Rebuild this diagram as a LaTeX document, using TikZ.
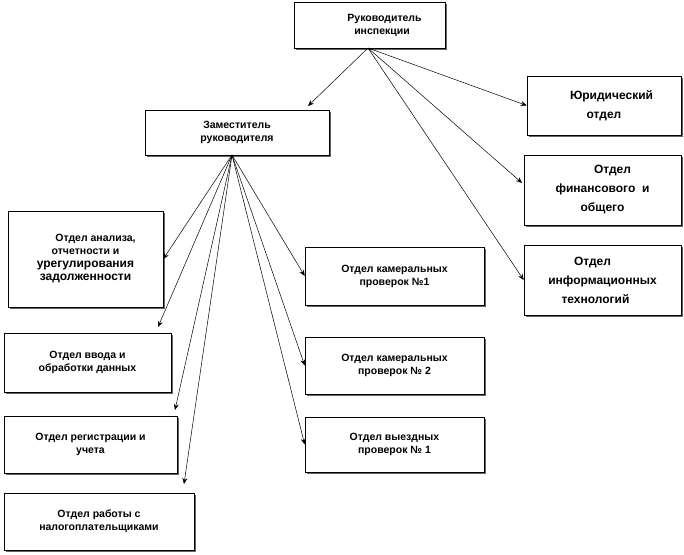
\documentclass[tikz,border=0pt]{standalone}
\usepackage{fontspec}
\setmainfont{Liberation Sans}
\usetikzlibrary{shadows,arrows.meta}
\begin{document}
\begin{tikzpicture}[x=1pt,y=-1pt,
 box/.style={draw,fill=white,line width=0.6pt,drop shadow={shadow xshift=1.5pt,shadow yshift=-1.5pt,fill=black!60,opacity=1},font=\bfseries\fontsize{10.5}{13}\selectfont,inner sep=0pt},
 big/.style={font=\bfseries\fontsize{12}{19}\selectfont},
 arr/.style={-{Stealth[length=6pt,width=5pt]},line width=0.5pt}]
\useasboundingbox (0,0) rectangle (684,554);
\newcommand\bx[7][]{\node[box,#1,minimum width=#5-#3,minimum height=#6-#4,align=center] (#2) at ({(#3+#5)/2},{(#4+#6)/2}) {#7};}
\bx{top}{294}{2}{445}{48}{\hspace*{30pt}Руководитель\\\hspace*{25pt}инспекции}
\bx{dep}{145}{110}{329}{155}{Заместитель\\руководителя}
\bx[big]{jur}{527}{76}{681}{135}{\hspace*{15pt}Юридический\\отдел}
\bx[big]{fin}{524}{155}{681}{225}{\hspace*{20pt}Отдел\\финансового\ \ и\\общего}
\bx[big]{it}{524}{245}{681}{315}{\hspace*{-20pt}Отдел\\информационных\\\hspace*{-14pt}технологий}
\bx{an}{8}{211}{163}{307}{\hspace*{20pt}Отдел анализа,\\отчетности и\\{\fontsize{12}{19}\selectfont урегулирования}\\{\fontsize{12}{19}\selectfont задолженности}}
\bx{vv}{4}{333}{171}{392}{Отдел ввода и\\обработки данных}
\bx{reg}{4}{416}{177}{473}{Отдел регистрации и\\учета}
\bx{rab}{4}{493}{194}{550}{Отдел работы с\\налогоплательщиками}
\bx{k1}{305}{247}{484}{305}{Отдел камеральных\\проверок №1}
\bx{k2}{305}{337}{484}{394}{Отдел камеральных\\проверок № 2}
\bx{v1}{305}{417}{484}{472}{Отдел выездных\\проверок № 1}
\coordinate (s1) at (368,48);
\coordinate (s2) at (232,155);
\coordinate (e0) at (308,106);
\coordinate (e1) at (522,183);
\coordinate (e2) at (158,327);
\coordinate (e3) at (175,410);
\coordinate (e4) at (184,484);
\draw[arr] (s1) -- (e0);
\draw[arr] (s1) -- (jur.west);
\draw[arr] (s1) -- (e1);
\draw[arr] (s1) -- (it.west);
\draw[arr] (s2) -- (an.east);
\draw[arr] (s2) -- (e2);
\draw[arr] (s2) -- (e3);
\draw[arr] (s2) -- (e4);
\draw[arr] (s2) -- (k1.west);
\draw[arr] (s2) -- (k2.west);
\draw[arr] (s2) -- (v1.west);
\end{tikzpicture}
\end{document}
